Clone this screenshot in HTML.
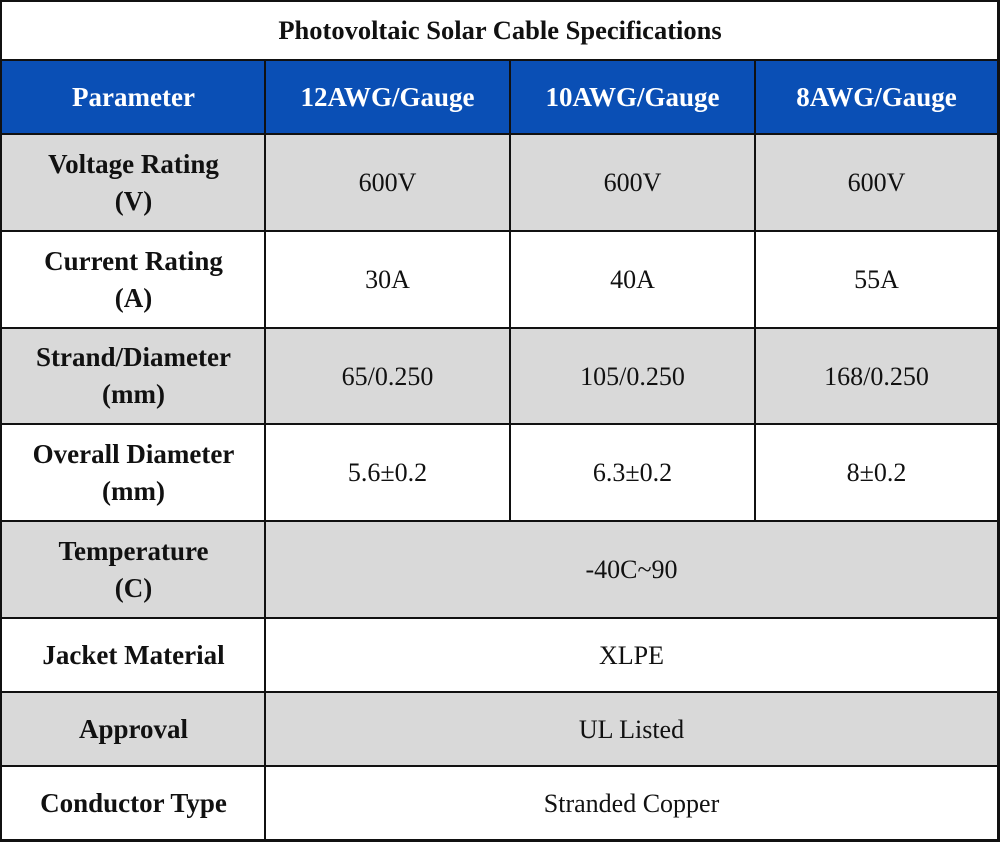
<!DOCTYPE html>
<html><head><meta charset="utf-8"><style>
body{margin:0;width:1000px;height:857px;background:#fff;position:relative;font-family:"Liberation Serif","Times New Roman",serif;overflow:hidden}
.c{position:absolute;box-sizing:border-box;display:flex;align-items:center;justify-content:center;text-align:center;font-size:26px;color:#111;line-height:37px}
.b{font-weight:bold;font-size:27px}
.h{background:#0a4fb5;color:#fff;font-weight:bold;font-size:27px}
.g{background:#d9d9d9}
.l{position:absolute;background:#111}
</style></head><body>
<div class="c b" style="left:2px;top:2px;width:996px;height:56px;font-size:26.5px">Photovoltaic Solar Cable Specifications</div>
<div class="c h" style="left:2px;top:60px;width:996px;height:74px"></div>
<div class="c h" style="left:2px;top:60px;width:263px;height:74px">Parameter</div>
<div class="c h" style="left:265px;top:60px;width:245px;height:74px">12AWG/Gauge</div>
<div class="c h" style="left:510px;top:60px;width:245px;height:74px">10AWG/Gauge</div>
<div class="c h" style="left:755px;top:60px;width:243px;height:74px">8AWG/Gauge</div>

<div class="c g" style="left:2px;top:134px;width:996px;height:97px"></div>
<div class="c b" style="left:2px;top:134px;width:263px;height:97px">Voltage Rating<br>(V)</div>
<div class="c" style="left:265px;top:134px;width:245px;height:97px">600V</div>
<div class="c" style="left:510px;top:134px;width:245px;height:97px">600V</div>
<div class="c" style="left:755px;top:134px;width:243px;height:97px">600V</div>

<div class="c b" style="left:2px;top:231px;width:263px;height:97px">Current Rating<br>(A)</div>
<div class="c" style="left:265px;top:231px;width:245px;height:97px">30A</div>
<div class="c" style="left:510px;top:231px;width:245px;height:97px">40A</div>
<div class="c" style="left:755px;top:231px;width:243px;height:97px">55A</div>

<div class="c g" style="left:2px;top:328px;width:996px;height:96px"></div>
<div class="c b" style="left:2px;top:328px;width:263px;height:96px">Strand/Diameter<br>(mm)</div>
<div class="c" style="left:265px;top:328px;width:245px;height:96px">65/0.250</div>
<div class="c" style="left:510px;top:328px;width:245px;height:96px">105/0.250</div>
<div class="c" style="left:755px;top:328px;width:243px;height:96px">168/0.250</div>

<div class="c b" style="left:2px;top:424px;width:263px;height:97px">Overall Diameter<br>(mm)</div>
<div class="c" style="left:265px;top:424px;width:245px;height:97px">5.6±0.2</div>
<div class="c" style="left:510px;top:424px;width:245px;height:97px">6.3±0.2</div>
<div class="c" style="left:755px;top:424px;width:243px;height:97px">8±0.2</div>

<div class="c g" style="left:2px;top:521px;width:996px;height:97px"></div>
<div class="c b" style="left:2px;top:521px;width:263px;height:97px">Temperature<br>(C)</div>
<div class="c" style="left:265px;top:521px;width:733px;height:97px">-40C~90</div>

<div class="c b" style="left:2px;top:618px;width:263px;height:74px">Jacket Material</div>
<div class="c" style="left:265px;top:618px;width:733px;height:74px">XLPE</div>

<div class="c g" style="left:2px;top:692px;width:996px;height:74px"></div>
<div class="c b" style="left:2px;top:692px;width:263px;height:74px">Approval</div>
<div class="c" style="left:265px;top:692px;width:733px;height:74px">UL Listed</div>

<div class="c b" style="left:2px;top:766px;width:263px;height:74px">Conductor Type</div>
<div class="c" style="left:265px;top:766px;width:733px;height:74px">Stranded Copper</div>

<div class="l" style="left:0;top:0;width:1000px;height:2px"></div>
<div class="l" style="left:0;top:839px;width:1000px;height:3px"></div>
<div class="l" style="left:0;top:0;width:2px;height:842px"></div>
<div class="l" style="left:997px;top:0;width:3px;height:842px"></div>
<div class="l" style="left:0;top:59px;width:1000px;height:2px"></div>
<div class="l" style="left:0;top:133px;width:1000px;height:2px"></div>
<div class="l" style="left:0;top:230px;width:1000px;height:2px"></div>
<div class="l" style="left:0;top:327px;width:1000px;height:2px"></div>
<div class="l" style="left:0;top:423px;width:1000px;height:2px"></div>
<div class="l" style="left:0;top:520px;width:1000px;height:2px"></div>
<div class="l" style="left:0;top:617px;width:1000px;height:2px"></div>
<div class="l" style="left:0;top:691px;width:1000px;height:2px"></div>
<div class="l" style="left:0;top:765px;width:1000px;height:2px"></div>
<div class="l" style="left:264px;top:60px;width:2px;height:780px"></div>
<div class="l" style="left:509px;top:60px;width:2px;height:461px"></div>
<div class="l" style="left:754px;top:60px;width:2px;height:461px"></div>
</body></html>
